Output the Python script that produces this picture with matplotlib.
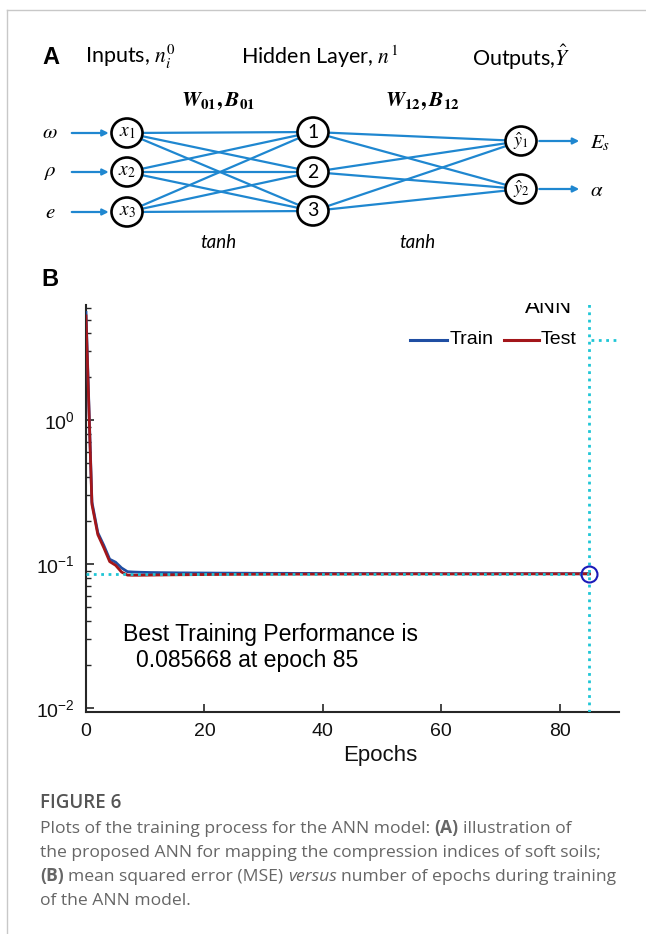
import numpy as np
import matplotlib
matplotlib.use('Agg')
import matplotlib.pyplot as plt
from matplotlib.patches import Ellipse, Rectangle
from matplotlib.ticker import NullFormatter

plt.rcParams['font.family'] = ['Liberation Sans', 'DejaVu Sans']
plt.rcParams['mathtext.fontset'] = 'stix'

# MSE per epoch
train_mse = [5.6, 0.27, 0.165, 0.135, 0.108, 0.103, 0.094, 0.0885, 0.0880, 0.0877,
             0.0875, 0.0873, 0.0872, 0.0871, 0.0870, 0.0869, 0.0868, 0.0868, 0.0867, 0.0867,
             0.0866, 0.0866, 0.0865, 0.0865, 0.0865, 0.0864, 0.0864, 0.0864, 0.0863, 0.0863,
             0.0863, 0.0862, 0.0862, 0.0862, 0.0862, 0.0861, 0.0861, 0.0861, 0.0861, 0.0860,
             0.0860, 0.0860, 0.0860, 0.0860, 0.0859, 0.0859, 0.0859, 0.0859, 0.0859, 0.0859,
             0.0858, 0.0858, 0.0858, 0.0858, 0.0858, 0.0858, 0.0858, 0.0858, 0.0858, 0.0858,
             0.0857, 0.0857, 0.0857, 0.0857, 0.0857, 0.0857, 0.0857, 0.0857, 0.0857, 0.0857,
             0.0857, 0.0857, 0.0857, 0.0857, 0.0857, 0.0857, 0.0857, 0.0857, 0.0857, 0.0857,
             0.0857, 0.0857, 0.0857, 0.0857, 0.0857, 0.085668]
test_mse = [5.3, 0.26, 0.16, 0.13, 0.104, 0.098, 0.088, 0.0838, 0.0836, 0.0836,
            0.0837, 0.0838, 0.0839, 0.0840, 0.0841, 0.0842, 0.0843, 0.0843, 0.0844, 0.0845,
            0.0845, 0.0846, 0.0846, 0.0847, 0.0847, 0.0848, 0.0848, 0.0848, 0.0849, 0.0849,
            0.0849, 0.0850, 0.0850, 0.0850, 0.0850, 0.0851, 0.0851, 0.0851, 0.0851, 0.0851,
            0.0852, 0.0852, 0.0852, 0.0852, 0.0852, 0.0852, 0.0853, 0.0853, 0.0853, 0.0853,
            0.0853, 0.0853, 0.0853, 0.0853, 0.0854, 0.0854, 0.0854, 0.0854, 0.0854, 0.0854,
            0.0854, 0.0854, 0.0854, 0.0854, 0.0854, 0.0854, 0.0854, 0.0854, 0.0854, 0.0854,
            0.0855, 0.0855, 0.0855, 0.0855, 0.0855, 0.0855, 0.0855, 0.0855, 0.0855, 0.0855,
            0.0855, 0.0855, 0.0855, 0.0855, 0.0855, 0.0855]
best_epoch = 85
best_mse = 0.085668

# network diagram labels
input_vars = [r'$\omega$', r'$\rho$', r'$e$']
input_nodes = [r'$x_1$', r'$x_2$', r'$x_3$']
hidden_nodes = ['1', '2', '3']
output_nodes = [r'$\hat{y}_1$', r'$\hat{y}_2$']
output_vars = [r'$E_s$', r'$\alpha$']

BLUE_NET = '#1f87d0'
TRAIN_C = '#1f4ea3'
TEST_C = '#a3161a'
CYAN = '#1fc6d6'
AXC = '#262626'

fig = plt.figure(figsize=(6.46, 9.34), dpi=100)

# overlay in pixel coordinates (diagram, legend, caption)
ov = fig.add_axes([0, 0, 1, 1])
ov.set_xlim(0, 646)
ov.set_ylim(934, 0)
ov.axis('off')
ov.set_zorder(5)

# page border
ov.plot([6.5, 6.5], [9.5, 934], color='#c8c8c8', lw=1)
ov.plot([6.5, 646], [9.5, 9.5], color='#c8c8c8', lw=1)

# ---------------- panel A ----------------
ov.text(42, 57, 'A', fontsize=17, fontweight='bold', va='center', ha='left')
ov.text(85, 57, r'Inputs, $n_i^0$', family='Lato', fontsize=15.5, va='center')
ov.text(241, 57, r'Hidden Layer, $n^1$', family='Lato', fontsize=15.5, va='center')
ov.text(472, 57, r'Outputs,$\hat{Y}$', family='Lato', fontsize=15.5, va='center')
ov.text(218, 101, r'$\mathbfit{W}_{\mathbf{01}}\mathbf{,}\,\mathbfit{B}_{\mathbf{01}}$',
        fontsize=15.5, ha='center', va='center')
ov.text(422, 101, r'$\mathbfit{W}_{\mathbf{12}}\mathbf{,}\,\mathbfit{B}_{\mathbf{12}}$',
        fontsize=15.5, ha='center', va='center')

x_in, x_hid, x_out = 127, 313, 521
y_in = [133, 172, 212]
y_hid = [132, 172, 211]
y_out = [141, 189]
nw, nh = 31, 29

for yi in y_in:
    for yh in y_hid:
        ov.plot([x_in, x_hid], [yi, yh], color=BLUE_NET, lw=1.6, zorder=1)
for yh in y_hid:
    for yo in y_out:
        ov.plot([x_hid, x_out], [yh, yo], color=BLUE_NET, lw=1.6, zorder=1)

for yi, lab, var in zip(y_in, input_nodes, input_vars):
    ov.add_patch(Ellipse((x_in, yi), nw, nh, fc='white', ec='black', lw=1.9, zorder=3))
    ov.text(x_in, yi, lab, fontsize=14, ha='center', va='center', zorder=4)
    ov.text(50, yi, var, fontsize=15, ha='center', va='center')
    ov.annotate('', xy=(x_in - nw / 2, yi), xytext=(69, yi),
                arrowprops=dict(arrowstyle='-|>', color=BLUE_NET, lw=1.6, mutation_scale=9))
for yh, lab in zip(y_hid, hidden_nodes):
    ov.add_patch(Ellipse((x_hid, yh), nw, nh, fc='white', ec='black', lw=1.9, zorder=3))
    ov.text(x_hid, yh, lab, family='Lato', fontsize=14, ha='center', va='center', zorder=4)
for yo, lab, var in zip(y_out, output_nodes, output_vars):
    ov.add_patch(Ellipse((x_out, yo), nw, nh, fc='white', ec='black', lw=1.9, zorder=3))
    ov.text(x_out, yo, lab, fontsize=13, ha='center', va='center', zorder=4)
    ov.annotate('', xy=(582, yo), xytext=(x_out + nw / 2, yo),
                arrowprops=dict(arrowstyle='-|>', color=BLUE_NET, lw=1.6, mutation_scale=9))
    ov.text(590, yo + 2, var, fontsize=15, ha='left', va='center')

ov.text(218, 242, 'tanh', family='Lato', style='italic', fontsize=13.5, ha='center', va='center')
ov.text(417, 242, 'tanh', family='Lato', style='italic', fontsize=13.5, ha='center', va='center')

# ---------------- panel B ----------------
ov.text(41, 279, 'B', fontsize=17, fontweight='bold', va='center', ha='left')

ax = fig.add_axes([86 / 646, (934 - 712) / 934, (619 - 86) / 646, (712 - 305) / 934])
epochs = np.arange(len(train_mse))
ax.plot(epochs, train_mse, color=TRAIN_C, lw=2, zorder=3)
ax.plot(epochs, test_mse, color=TEST_C, lw=2, zorder=3)
ax.plot([0, best_epoch], [best_mse, best_mse], ':', color=CYAN, lw=2, zorder=4)
ax.plot([best_epoch, best_epoch], [1e-3, 100], ':', color=CYAN, lw=2, zorder=4)
ax.plot(best_epoch, best_mse, 'o', mfc='none', mec='#1a1ab8', ms=11.5, mew=1.5, zorder=5)

ax.set_yscale('log')
ax.set_xlim(0, 90)
ax.set_ylim(10 ** -2.028, 10 ** 0.8)
ax.set_xticks([0, 20, 40, 60, 80])
ax.set_yticks([1e-2, 1e-1, 1e0])
ax.yaxis.set_minor_formatter(NullFormatter())
for s in ['top', 'right']:
    ax.spines[s].set_visible(False)
for s in ['left', 'bottom']:
    ax.spines[s].set_linewidth(1.5)
    ax.spines[s].set_color(AXC)
ax.tick_params(which='both', direction='in', color=AXC, labelsize=14, labelcolor='#111111')
ax.tick_params(which='major', length=6, width=1.2, pad=8)
ax.tick_params(which='minor', length=3.5, width=1)
ax.patch.set_visible(False)
ov.text(380, 756, 'Epochs', fontsize=16, ha='center', va='center', color='#111111')

# title, cut off at the top like the source image
ov.text(549, 313, 'ANN', fontsize=16, ha='center', va='baseline')
ov.add_patch(Rectangle((500, 280), 100, 23, fc='white', ec='none', zorder=10))

# legend
ov.plot([410, 447], [340, 340], color=TRAIN_C, lw=2.2)
ov.text(450, 340, 'Train', fontsize=14, va='center')
ov.plot([504, 539], [340, 340], color=TEST_C, lw=2.2)
ov.text(541, 340, 'Test', fontsize=14, va='center')
ov.plot([591, 618], [340, 340], ':', color=CYAN, lw=2)

ov.text(123, 634, 'Best Training Performance is', fontsize=16.6, va='center')
ov.text(136, 660, '0.085668 at epoch 85', fontsize=16.6, va='center')

# ---------------- caption ----------------
CAP = '#666666'
CF = 'Open Sans'
CS = 12.6


def runs(x, y, parts):
    t = None
    for s, w, st in parts:
        if t is None:
            t = ov.text(x, y, s, family=CF, fontsize=CS, color=CAP, fontweight=w,
                        style=st, va='baseline')
        else:
            t = ov.annotate(s, xy=(1, 0), xycoords=t, xytext=(4.5, 0),
                            textcoords='offset pixels', family=CF, fontsize=CS,
                            color=CAP, fontweight=w, style=st, va='bottom')


ov.text(40, 808, 'FIGURE 6', family=CF, fontsize=13.5, color='#555555',
        fontweight='semibold', va='baseline')
runs(40, 833, [('Plots of the training process for the ANN model:', 'normal', 'normal'),
               ('(A)', 'bold', 'normal'), ('illustration of', 'normal', 'normal')])
runs(40, 857, [('the proposed ANN for mapping the compression indices of soft soils;',
                'normal', 'normal')])
runs(40, 881, [('(B)', 'bold', 'normal'), ('mean squared error (MSE)', 'normal', 'normal'),
               ('versus', 'normal', 'italic'),
               ('number of epochs during training', 'normal', 'normal')])
runs(40, 905, [('of the ANN model.', 'normal', 'normal')])

fig.savefig('out.png', dpi=100)
